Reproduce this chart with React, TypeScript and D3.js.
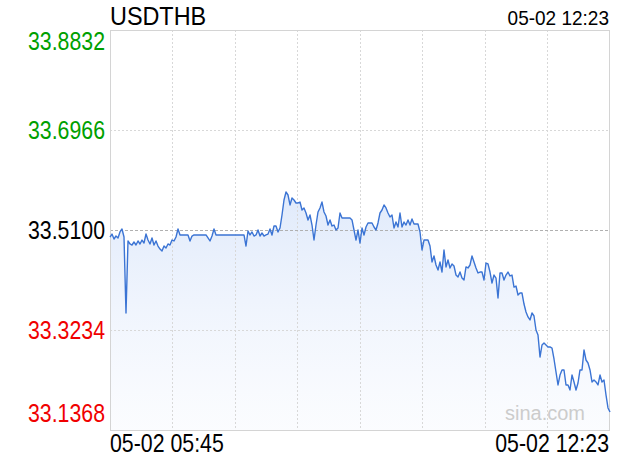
import React from "react";
import * as d3 from "d3";

const title = "USDTHB";
const startLabel = "05-02 05:45";
const endLabel = "05-02 12:23";
const watermark = "sina.com";
const prevClose = 33.51;
const yTicks = [33.8832, 33.6966, 33.51, 33.3234, 33.1368];

const prices = [
  33.4969, 33.5025, 33.4932, 33.4988, 33.4951, 33.5063, 33.5119, 33.4969, 33.3551, 33.4895,
  33.4839, 33.482, 33.4876, 33.482, 33.4895, 33.4839, 33.4913, 33.4857, 33.5025, 33.4913,
  33.4839, 33.4951, 33.482, 33.4895, 33.4801, 33.4745, 33.4708, 33.4801, 33.4764, 33.4839,
  33.482, 33.4913, 33.4895, 33.4969, 33.5119, 33.5007, 33.5007, 33.5007, 33.5007, 33.5007,
  33.4895, 33.4988, 33.5007, 33.5007, 33.5007, 33.5007, 33.5007, 33.5007, 33.5007, 33.4951,
  33.4895, 33.4988, 33.5119, 33.5007, 33.5007, 33.5007, 33.5007, 33.5007, 33.5007, 33.5007,
  33.5007, 33.5007, 33.5007, 33.5007, 33.5007, 33.5007, 33.5007, 33.5007, 33.4801, 33.5081,
  33.5007, 33.5063, 33.4988, 33.5007, 33.51, 33.4988, 33.5044, 33.4988, 33.5007, 33.5025,
  33.5119, 33.5007, 33.5175, 33.5175, 33.5063, 33.5137, 33.538, 33.566, 33.5809, 33.5753,
  33.5567, 33.5697, 33.566, 33.5604, 33.5604, 33.5622, 33.5473, 33.5511, 33.5417, 33.5287,
  33.538, 33.5193, 33.4913, 33.5193, 33.5436, 33.5511, 33.5622, 33.5436, 33.5361, 33.5193,
  33.5287, 33.5175, 33.5193, 33.51, 33.5137, 33.5417, 33.5324, 33.5324, 33.5324, 33.5324,
  33.5324, 33.5287, 33.51, 33.4913, 33.51, 33.4857, 33.5137, 33.5007, 33.5156, 33.5231,
  33.5231, 33.5231, 33.5156, 33.51, 33.5231, 33.5417, 33.5473, 33.5567, 33.5511, 33.5417,
  33.5343, 33.538, 33.5137, 33.5249, 33.5156, 33.5417, 33.5156, 33.5249, 33.5193, 33.5287,
  33.5193, 33.5305, 33.5212, 33.5212, 33.5212, 33.5063, 33.4727, 33.4913, 33.4913, 33.4913,
  33.4801, 33.4503, 33.4615, 33.4447, 33.4354, 33.4503, 33.4316, 33.4727, 33.441, 33.454,
  33.4391, 33.4466, 33.4428, 33.426, 33.4223, 33.4316, 33.4204, 33.4167, 33.441, 33.4391,
  33.4447, 33.4615, 33.4503, 33.4391, 33.4298, 33.4316, 33.4316, 33.4167, 33.4484, 33.4466,
  33.4316, 33.4111, 33.426, 33.4204, 33.3831, 33.4298, 33.4298, 33.4167, 33.426, 33.4316,
  33.4242, 33.426, 33.4036, 33.4055, 33.3887, 33.3924, 33.3924, 33.3719, 33.357, 33.3477,
  33.3421, 33.3551, 33.3495, 33.3234, 33.3141, 33.273, 33.2954, 33.2991, 33.2954, 33.2917,
  33.2917, 33.2898, 33.2693, 33.245, 33.2208, 33.2394, 33.2488, 33.2488, 33.2208, 33.2208,
  33.2114, 33.2394, 33.2264, 33.2114, 33.2245, 33.2488, 33.2488, 33.2861, 33.2674, 33.2618,
  33.2488, 33.2264, 33.2301, 33.2264, 33.2208, 33.2394, 33.2264, 33.2301, 33.2021, 33.1779,
  33.1704,
];

const W = 620;
const H = 460;
const left = 110;
const right = 610;
const top = 30;
const bottom = 430;
const FONT = "'Liberation Sans', Arial, Helvetica, sans-serif";

export default function App() {
  const x = d3.scaleLinear().domain([0, prices.length - 1]).range([left, right]);
  const y = d3
    .scaleLinear()
    .domain([yTicks[yTicks.length - 1], yTicks[0]])
    .range([bottom, top]);

  const line = d3
    .line<number>()
    .x((_, i) => x(i))
    .y((d) => y(d));
  const area = d3
    .area<number>()
    .x((_, i) => x(i))
    .y0(bottom)
    .y1((d) => y(d));

  const vCols = 8;
  const vLines = d3.range(1, vCols).map((k) => left + ((right - left) * k) / vCols);

  const tickColor = (v: number) =>
    v > prevClose + 1e-9 ? "#00a000" : v < prevClose - 1e-9 ? "#f00000" : "#000000";

  const labelY = (v: number, i: number) => {
    const py = y(v);
    if (i === 0) return py + 20;
    if (i === yTicks.length - 1) return py - 8;
    return py + 9;
  };

  return (
    <svg
      width={W}
      height={H}
      style={{ position: "absolute", left: 0, top: 0, background: "#fff" }}
      fontFamily={FONT}
    >
      <defs>
        <linearGradient id="fillGrad" gradientUnits="userSpaceOnUse" x1="0" y1={top + 150} x2="0" y2={bottom}>
          <stop offset="0" stopColor="#dae6fa" stopOpacity={0.9} />
          <stop offset="1" stopColor="#eef3fd" stopOpacity={0.25} />
        </linearGradient>
      </defs>
      <rect x={0} y={0} width={W} height={H} fill="#fff" />

      <path d={area(prices) || ""} fill="url(#fillGrad)" />

      {vLines.map((vx, i) => (
        <line
          key={"v" + i}
          x1={vx}
          x2={vx}
          y1={top}
          y2={bottom}
          stroke="#d8d8d8"
          strokeWidth={1}
          strokeDasharray="2,2"
          shapeRendering="crispEdges"
        />
      ))}
      {yTicks.slice(1, -1).map((v, i) => (
        <line
          key={"h" + i}
          x1={left}
          x2={right}
          y1={Math.round(y(v)) + 0.5}
          y2={Math.round(y(v)) + 0.5}
          stroke={v === prevClose ? "#b0b0b0" : "#d8d8d8"}
          strokeWidth={1}
          strokeDasharray={v === prevClose ? "3,2" : "2,2"}
          shapeRendering="crispEdges"
        />
      ))}

      <rect
        x={left + 0.5}
        y={top + 0.5}
        width={right - left - 1}
        height={bottom - top}
        fill="none"
        stroke="#d4d4d4"
        strokeWidth={1}
        shapeRendering="crispEdges"
      />

      <text x={585} y={420} fontSize={20} fill="#cccccc" textAnchor="end">
        {watermark}
      </text>

      <path d={line(prices) || ""} fill="none" stroke="#3b74d4" strokeWidth={1.4} strokeLinejoin="round" />

      {yTicks.map((v, i) => (
        <text
          key={"yl" + i}
          transform={`translate(105,${labelY(v, i)}) scale(0.82,1)`}
          textAnchor="end"
          fontSize={26}
          fill={tickColor(v)}
        >
          {v.toFixed(4)}
        </text>
      ))}

      <text transform={`translate(110,25) scale(0.9,1)`} fontSize={26} fill="#000">
        {title}
      </text>
      <text transform={`translate(609,25) scale(0.95,1)`} fontSize={20} fill="#000" textAnchor="end">
        {endLabel}
      </text>

      <text transform={`translate(110,452) scale(0.82,1)`} fontSize={26} fill="#000">
        {startLabel}
      </text>
      <text transform={`translate(609,452) scale(0.82,1)`} fontSize={26} fill="#000" textAnchor="end">
        {endLabel}
      </text>
    </svg>
  );
}
